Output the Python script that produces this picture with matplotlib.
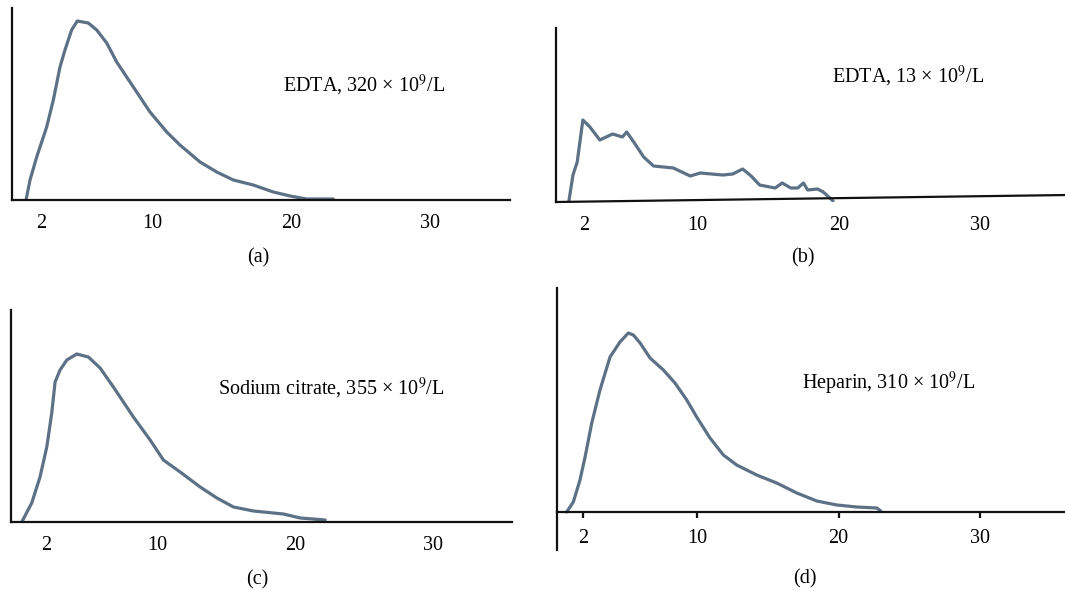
import numpy as np
import matplotlib.pyplot as plt

plt.rcParams['font.family'] = ['Liberation Serif', 'DejaVu Serif']
plt.rcParams['mathtext.fontset'] = 'stix'

LINE = '#5d7186'
W, H = 1065, 595

# volume (fL) vs relative count
vol_a = [0.9, 1.19, 1.67, 2.39, 2.87, 3.35, 3.71, 4.19, 4.6, 5.39, 6.0, 6.72, 7.44, 8.64, 9.84,
         11.05, 12.0, 13.45, 14.65, 15.85, 17.29, 18.73, 19.94, 21.14, 23.06]
cnt_a = [0, 20, 43, 73, 100, 133, 150, 170, 179, 177, 170, 157, 138, 113, 88,
         68, 55, 38, 28, 20, 15, 8, 4, 1, 1]

vol_b = [0.9, 1.2, 1.5, 1.9, 2.4, 3.1, 4.0, 4.7, 5.0, 5.5, 6.2, 6.9, 8.3, 9.5, 10.2, 11.8, 12.5, 13.2,
         13.8, 14.4, 15.5, 16.0, 16.6, 17.1, 17.5, 17.8, 18.5, 18.9, 19.6]
cnt_b = [0, 27, 40, 82, 75, 62, 68, 65, 70, 60, 45, 36, 34, 26, 29, 27, 28, 33,
         26, 17, 14, 19, 14, 14, 19, 12, 13, 10, 1]

vol_c = [0.22, 0.94, 1.54, 2.03, 2.39, 2.63, 2.99, 3.48, 4.2, 5.04, 5.89, 6.85, 8.3, 9.51, 10.47,
         11.68, 13.13, 14.34, 15.54, 16.99, 19.16, 20.37, 22.18]
cnt_c = [0, 19, 45, 75, 109, 140, 152, 162, 168, 165, 154, 135, 105, 82, 62,
         50, 35, 24, 15, 11, 8, 4, 2]

vol_d = [0.82, 1.29, 1.76, 2.12, 2.59, 3.17, 3.88, 4.58, 5.17, 5.52, 6.0, 6.7, 7.64, 8.46, 9.29,
         9.99, 10.93, 11.87, 12.81, 14.22, 15.63, 17.05, 18.46, 19.87, 21.28, 22.69, 22.97]
cnt_d = [0, 10, 32, 55, 89, 122, 155, 170, 179, 177, 169, 154, 142, 129, 112,
         95, 74, 57, 47, 37, 29, 19, 11, 7, 5, 4, 1]

ticks = [2, 10, 20, 30]
labels = ['EDTA, 320 × 10$^9$/L', 'EDTA, 13 × 10$^9$/L',
          'Sodium citrate, 355 × 10$^9$/L', 'Heparin, 310 × 10$^9$/L']
letters = ['(a)', '(b)', '(c)', '(d)']

FS = 14.5

fig = plt.figure(figsize=(W / 100, H / 100), dpi=100)


def make_ax(left, right, top, bottom):
    return fig.add_axes([left / W, 1 - bottom / H, (right - left) / W, (bottom - top) / H])


def style(ax, pad=10):
    for s in ['top', 'right']:
        ax.spines[s].set_visible(False)
    for s in ['left', 'bottom']:
        ax.spines[s].set_linewidth(1.6)
        ax.spines[s].set_color('#111111')
    ax.set_yticks([])
    ax.set_xticks(ticks)
    ax.tick_params(axis='x', length=0, pad=pad, labelsize=FS)


# (a)
ax = make_ax(12, 510, 8, 200)
ax.plot(vol_a, cnt_a, color=LINE, lw=2.3, solid_capstyle='round')
ax.set_xlim(-0.11, 35.8)
ax.set_ylim(0, 192)
style(ax)
ax.text(25.3, 115, labels[0], ha='center', va='center', fontsize=FS)

# (b)  - slightly tilted baseline in the original
ax = make_ax(556, 1065, 28, 202)
ax.plot(vol_b, cnt_b, color=LINE, lw=2.3, solid_capstyle='round')
ax.set_xlim(0, 36.0)
ax.set_ylim(0, 174)
style(ax)
ax.spines['bottom'].set_visible(False)
ax.plot([0, 1], [0, 0.04], transform=ax.transAxes, color='#111111', lw=1.6, clip_on=False)
ax.text(24.9, 126, labels[1], ha='center', va='center', fontsize=FS)

# (c)
ax = make_ax(11, 512, 310, 522)
ax.plot(vol_c, cnt_c, color=LINE, lw=2.3, solid_capstyle='round')
ax.set_xlim(-0.56, 35.7)
ax.set_ylim(0, 212)
style(ax)
ax.text(22.6, 134, labels[2], ha='center', va='center', fontsize=FS)

# (d)
ax = make_ax(557, 1065, 288, 550)
ax.plot(vol_d, cnt_d, color=LINE, lw=2.3, solid_capstyle='round')
ax.set_xlim(0.14, 35.96)
ax.set_ylim(-38, 224)
style(ax, pad=8)
ax.spines['bottom'].set_position(('data', 0))
ax.tick_params(axis='x', length=4, width=1.6, direction='out', color='#111111')
ax.text(23.5, 129, labels[3], ha='center', va='center', fontsize=FS)

for (x, y), s in zip([(258, 258), (803, 258), (257, 580), (805, 579)], letters):
    fig.text(x / W, 1 - y / H, s, ha='center', va='center', fontsize=FS)

fig.savefig('out.png', dpi=100)
